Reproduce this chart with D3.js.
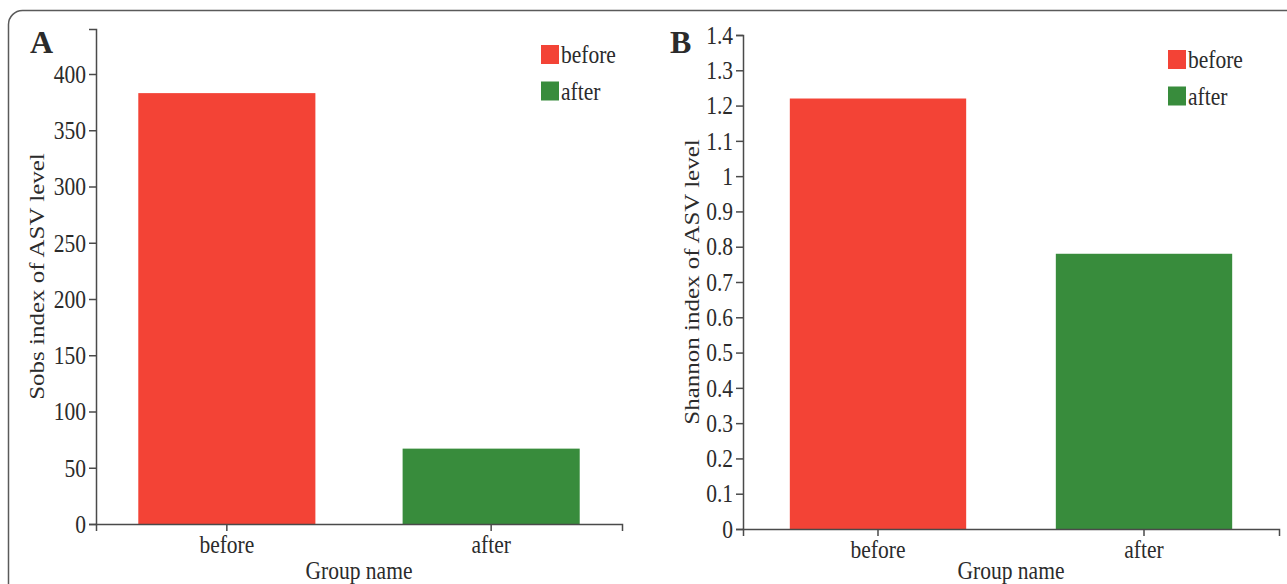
<!DOCTYPE html>
<html>
<head>
<meta charset="utf-8">
<script src="https://cdn.jsdelivr.net/npm/d3@7"></script>
<style>
  html, body { margin: 0; padding: 0; background: #fff; }
  svg { display: block; }
  text { font-family: "Liberation Serif", "Times New Roman", serif; fill: #2b2b2b; }
</style>
</head>
<body>
<svg id="chart" width="1287" height="584"></svg>
<script>
// ---- data ----
const categories = ["before", "after"];
const sobsValues = [383, 67];
const shannonValues = [1.22, 0.78];
const sobsTicks = [0, 50, 100, 150, 200, 250, 300, 350, 400];
const shannonTicks = [0, 0.1, 0.2, 0.3, 0.4, 0.5, 0.6, 0.7, 0.8, 0.9, 1, 1.1, 1.2, 1.3, 1.4];
const colors = ["#f34336", "#388c3c"];
const legendLabels = ["before", "after"];

const FS = 25;        // font size
const SQ = 0.86;      // horizontal squeeze of the reference

const svg = d3.select("#chart");

// outer rounded frame
svg.append("rect")
  .attr("x", 8.5).attr("y", 10.5)
  .attr("width", 1400).attr("height", 700)
  .attr("rx", 14).attr("ry", 14)
  .attr("fill", "none").attr("stroke", "#5a5a5a").attr("stroke-width", 1.5);

function panel(opts) {
  const g = svg.append("g");
  const x = d3.scaleBand().domain(categories)
    .range([opts.x0, opts.x1]).paddingInner(opts.pi).paddingOuter(opts.po);
  const y = d3.scaleLinear().domain(opts.domain).range([opts.y0, opts.y1]);

  g.selectAll("rect.bar").data(opts.values).enter().append("rect")
    .attr("class", "bar")
    .attr("x", (d, i) => x(categories[i]))
    .attr("width", x.bandwidth())
    .attr("y", d => y(d))
    .attr("height", d => y(0) - y(d))
    .attr("fill", (d, i) => colors[i]);

  const yAxis = g.append("g").attr("transform", `translate(${opts.x0},0)`)
    .call(d3.axisLeft(y).tickValues(opts.ticks).tickSize(7).tickSizeOuter(7).tickPadding(3)
      .tickFormat(d3.format("~g")));
  const xAxis = g.append("g").attr("transform", `translate(0,${opts.y0})`)
    .call(d3.axisBottom(x).tickSize(7).tickSizeOuter(7));

  [yAxis, xAxis].forEach(a => {
    a.selectAll("path, line").attr("stroke", "#4a4a4a").attr("stroke-width", 1.5);
    a.selectAll("text").attr("font-family", "Liberation Serif, serif")
      .attr("fill", "#2b2b2b").attr("font-size", FS).classed("sq", true);
  });
  yAxis.selectAll("text").attr("dy", "0.33em");
  xAxis.selectAll("text").attr("y", 29).attr("dy", 0);

  // axis titles
  g.append("text")
    .attr("transform", `translate(${opts.yTitleX},${(opts.y0 + opts.y1) / 2}) rotate(-90) scale(1,${SQ})`)
    .attr("text-anchor", "middle").attr("font-size", FS)
    .text(opts.yTitle);
  g.append("text").attr("class", "sq")
    .attr("x", (opts.x0 + opts.x1) / 2).attr("y", opts.xTitleY)
    .attr("text-anchor", "middle").attr("font-size", FS)
    .text("Group name");

  // panel letter
  g.append("text")
    .attr("x", opts.letterX).attr("y", 53)
    .attr("font-size", 32).attr("font-weight", "bold").attr("fill", "#111")
    .text(opts.letter);

  // legend
  const lg = g.append("g").attr("transform", `translate(${opts.legX},${opts.legY})`);
  legendLabels.forEach((lab, i) => {
    lg.append("rect").attr("x", 0).attr("y", i * 36.5)
      .attr("width", 18).attr("height", 19).attr("fill", colors[i]);
    lg.append("text").attr("class", "sq").attr("x", 20).attr("y", i * 36.5 + 18)
      .attr("font-size", FS).text(lab);
  });
}

panel({
  x0: 96, x1: 622, y0: 524, y1: 29, pi: 0.33, po: 0.16,
  domain: [0, 440], ticks: sobsTicks, values: sobsValues,
  yTitle: "Sobs index of ASV level", yTitleX: 44, xTitleY: 579,
  letter: "A", letterX: 30, legX: 541, legY: 45
});

panel({
  x0: 743, x1: 1279, y0: 529, y1: 35, pi: 0.337, po: 0.176,
  domain: [0, 1.4], ticks: shannonTicks, values: shannonValues,
  yTitle: "Shannon index of ASV level", yTitleX: 699, xTitleY: 579,
  letter: "B", letterX: 670, legX: 1168, legY: 50
});

// squeeze horizontal texts like the reference image
svg.selectAll("text.sq").each(function () {
  const w = this.getComputedTextLength();
  d3.select(this).attr("textLength", w * SQ).attr("lengthAdjust", "spacingAndGlyphs");
});
</script>
</body>
</html>
